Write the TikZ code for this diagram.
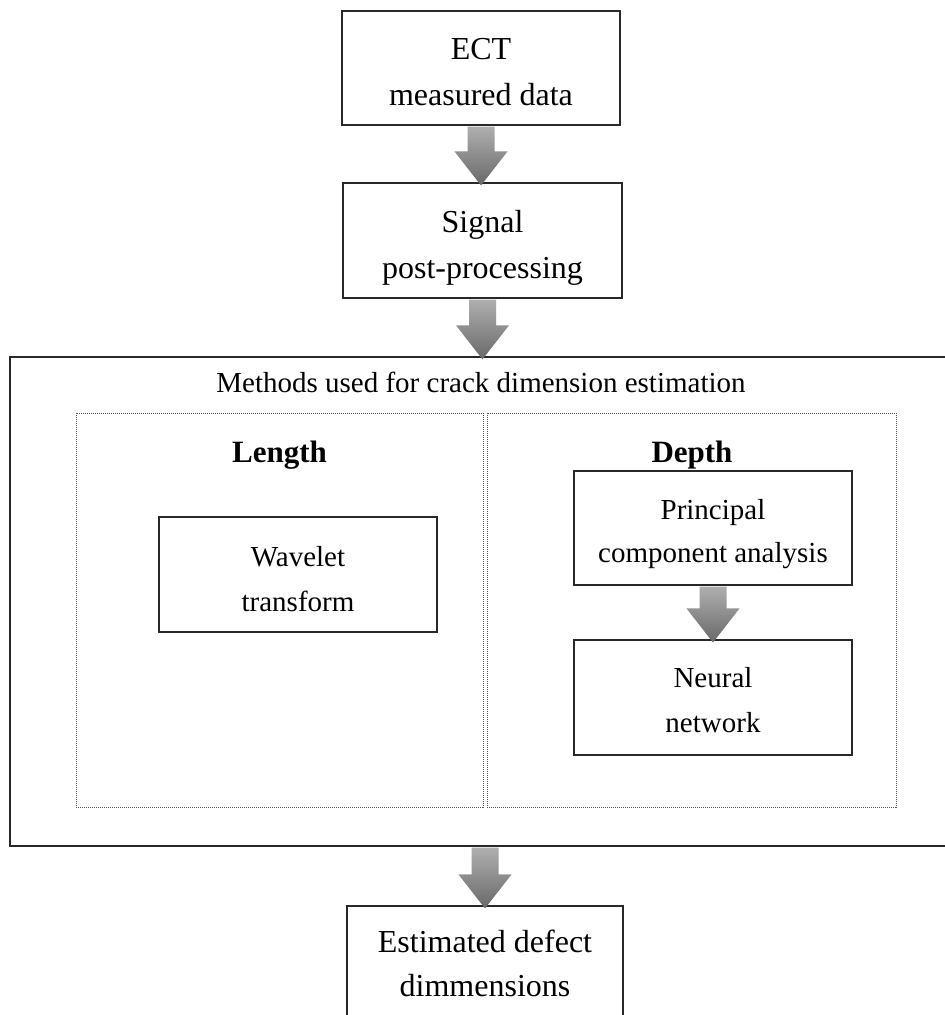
\documentclass[tikz,border=0pt]{standalone}
\usepackage{fontspec}
\setmainfont{Liberation Serif}
\usetikzlibrary{calc}
\definecolor{arrtop}{RGB}{175,175,175}
\definecolor{arrbot}{RGB}{105,105,105}
\definecolor{boxline}{RGB}{40,40,40}
\definecolor{dotline}{RGB}{85,85,85}
\newcommand{\tstrut}[1]{\rule{0pt}{#1pt}}
\newcommand{\fatarrow}[2]{%
  \coordinate (fa-s) at (#1.south);
  \coordinate (fa-t) at (#1.south |- #2.north);
  \shade[top color=arrtop,bottom color=arrbot]
   ($(fa-s)+(-13.5,1)$) -- ($(fa-s)+(13.5,1)$)
   -- ($(fa-t)+(13.5,-31)$) -- ($(fa-t)+(26.5,-31)$)
   -- ($(fa-t)+(0,3)$) -- ($(fa-t)+(-26.5,-31)$)
   -- ($(fa-t)+(-13.5,-31)$) -- cycle;}
\tikzset{
  box/.style={draw=boxline,line width=1.1pt,minimum width=278pt,minimum height=114pt,align=center,inner sep=0pt},
  bigtxt/.style={font=\fontsize{32}{46}\selectfont},
  smalltxt/.style={font=\fontsize{29}{45}\selectfont},
  dotbox/.style={draw=dotline,densely dotted,line width=1pt,minimum height=394pt,inner sep=0pt},
  headtxt/.style={font=\bfseries\fontsize{31}{37}\selectfont,anchor=base,inner sep=0pt}
}
\begin{document}
\begin{tikzpicture}[x=1pt,y=-1pt]
\useasboundingbox (0,0) rectangle (945,1015);
\clip (0,0) rectangle (945,1015);
\fill[white] (0,0) rectangle (945,1015);
% outer frame
\node[draw=boxline,line width=1.3pt,minimum width=950pt,minimum height=489pt,inner sep=0pt] (outer) at (485,601.5) {};
\node[dotbox,minimum width=407pt] (lenbox) at (279.5,610) {};
\node[dotbox,minimum width=409pt] (depbox) at (691.5,610) {};
\node[font=\fontsize{29}{35}\selectfont,anchor=base,inner sep=0pt] (methods) at (481,392) {Methods used for crack dimension estimation};
\node[headtxt] (length) at (279.5,462) {Length};
\node[headtxt] (depth) at (692,462) {Depth};
% boxes
\node[box,bigtxt] (ect) at (481,68) {\tstrut{30}ECT\\measured data};
\node[box,bigtxt,minimum width=279pt,minimum height=115pt] (sig) at (482.5,240.5) {\tstrut{36}Signal\\post-processing};
\node[box,smalltxt,minimum height=115pt] (wav) at (298,574.5) {\tstrut{30}Wavelet\\transform};
\node[box,font=\fontsize{29}{43}\selectfont] (pca) at (713,528) {\tstrut{33}Principal\\component analysis};
\node[box,smalltxt,minimum height=115pt] (nn) at (713,697.5) {\tstrut{26}Neural\\network};
\node[box,font=\fontsize{32}{44}\selectfont,minimum width=276pt,minimum height=115pt] (est) at (485,963.5) {Estimated defect\\dimmensions};
% arrows
\fatarrow{ect}{sig}
\fatarrow{sig}{outer}
\fatarrow{pca}{nn}
\fatarrow{outer}{est}
\end{tikzpicture}
\end{document}
